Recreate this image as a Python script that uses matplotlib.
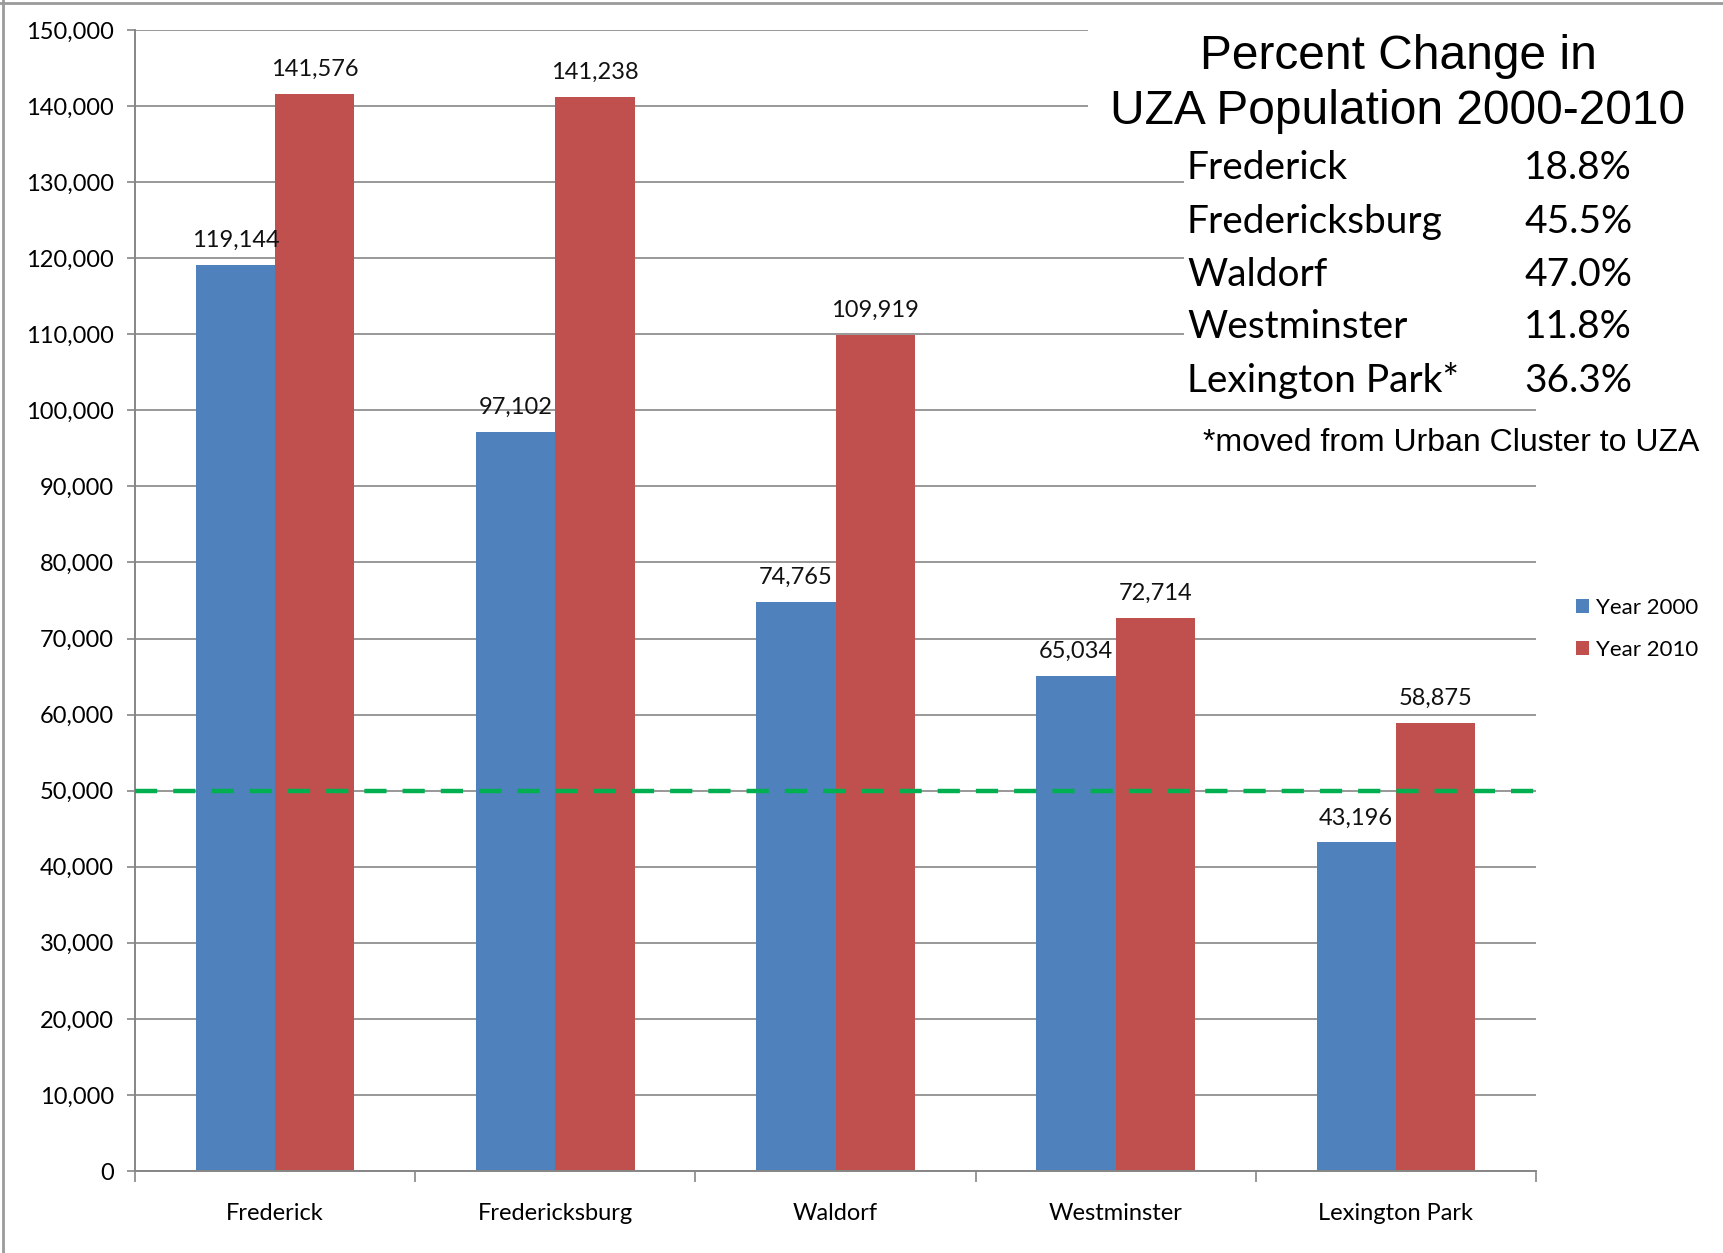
import matplotlib
matplotlib.use("Agg")
import matplotlib.pyplot as plt
from matplotlib.lines import Line2D
from matplotlib.patches import Rectangle
import numpy as np

cities = ["Frederick", "Fredericksburg", "Waldorf", "Westminster", "Lexington Park"]
pop_2000 = [119144, 97102, 74765, 65034, 43196]
pop_2010 = [141576, 141238, 109919, 72714, 58875]
table_names = ["Frederick", "Fredericksburg", "Waldorf", "Westminster", "Lexington Park*"]
pct_change = ["18.8%", "45.5%", "47.0%", "11.8%", "36.3%"]

BLUE = "#4F81BD"
RED = "#C0504D"
GRID = "#868686"
ARIAL = "Liberation Sans"

plt.rcParams["font.family"] = ["Lato", "DejaVu Sans"]

W, H = 1723, 1253
fig = plt.figure(figsize=(W / 100, H / 100), dpi=100)

def fx(px):
    return px / W

def fy(py):
    return 1 - py / H

ax = fig.add_axes([fx(135), fy(1171), fx(1536) - fx(135), fy(30) - fy(1171)])

x = np.arange(len(cities))
w = 0.283
b1 = ax.bar(x - w / 2, pop_2000, w, color=BLUE, label="Year 2000", zorder=2)
b2 = ax.bar(x + w / 2, pop_2010, w, color=RED, label="Year 2010", zorder=2)

for bars, vals in [(b1, pop_2000), (b2, pop_2010)]:
    for rect, v in zip(bars, vals):
        ax.annotate(f"{v:,}", (rect.get_x() + rect.get_width() / 2, v),
                    xytext=(0, 13), textcoords="offset points",
                    ha="center", va="baseline", fontsize=17, color="#111111", zorder=3)

ax.axhline(50000, color="#00B050", lw=3.2, dashes=(5, 3.6), zorder=4)

ax.set_ylim(0, 150000)
ax.set_xlim(-0.5, len(cities) - 0.5)
ax.set_yticks(np.arange(0, 150001, 10000))
ax.yaxis.set_major_formatter(matplotlib.ticker.FuncFormatter(lambda v, p: f"{int(v):,}"))
ax.grid(axis="y", color=GRID, lw=1.2, zorder=0)
ax.set_axisbelow(True)

ax.set_xticks(x)
ax.set_xticklabels(cities)
ax.set_xticks(np.arange(-0.5, len(cities)), minor=True)
ax.tick_params(axis="x", which="major", length=0, pad=23, labelsize=17)
ax.tick_params(axis="x", which="minor", length=8, width=1.2, color=GRID, direction="out")
ax.tick_params(axis="y", length=6, width=1.2, color=GRID, pad=9, labelsize=17)

for s in ["top", "right"]:
    ax.spines[s].set_visible(False)
for s in ["left", "bottom"]:
    ax.spines[s].set_color(GRID)
    ax.spines[s].set_linewidth(1.4)

ax.legend(loc="center left", bbox_to_anchor=(fx(1576), fy(629)), bbox_transform=fig.transFigure,
          frameon=False, fontsize=16, handlelength=0.6, handleheight=0.6,
          handletextpad=0.3, labelspacing=1.0, borderpad=0, borderaxespad=0)

# white text box covering the gridlines
fig.add_artist(Rectangle((fx(1088), fy(140)), 1, fy(0) - fy(140), transform=fig.transFigure,
                         facecolor="white", edgecolor="none", zorder=5))
fig.add_artist(Rectangle((fx(1184), fy(400)), 1, fy(140) - fy(400), transform=fig.transFigure,
                         facecolor="white", edgecolor="none", zorder=5))

fig.text(fx(1398), fy(69), "Percent Change in", ha="center", va="baseline",
         family=ARIAL, fontsize=34.5, zorder=6)
fig.text(fx(1398), fy(124), "UZA Population 2000-2010", ha="center", va="baseline",
         family=ARIAL, fontsize=34.5, zorder=6)

row_y = [179, 233, 286, 338, 392]
for yy, name, pct in zip(row_y, table_names, pct_change):
    fig.text(fx(1187), fy(yy), name, ha="left", va="baseline", fontsize=28, zorder=6)
    fig.text(fx(1524), fy(yy), pct, ha="left", va="baseline", fontsize=28, zorder=6)

fig.text(fx(1203), fy(451), "*moved from Urban Cluster to UZA", ha="left", va="baseline",
         family=ARIAL, fontsize=23, zorder=6)

# outer frame
fig.add_artist(Line2D([0, 1], [fy(3), fy(3)], transform=fig.transFigure, color="#9a9a9a", lw=2, zorder=7))
fig.add_artist(Line2D([fx(3), fx(3)], [0, 1], transform=fig.transFigure, color="#9a9a9a", lw=2, zorder=7))

fig.savefig("out.png", dpi=100)
